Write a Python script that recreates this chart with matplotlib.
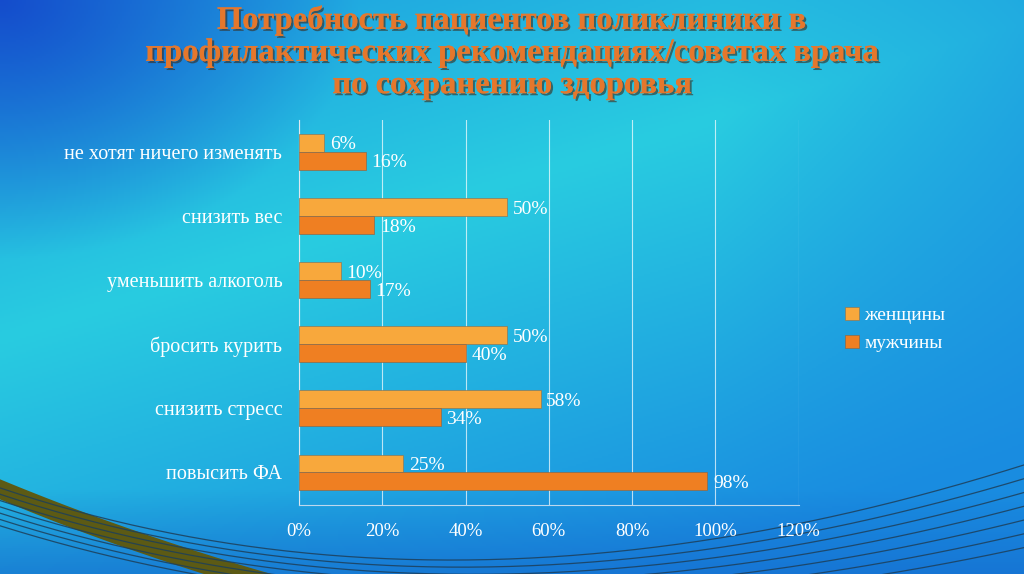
import numpy as np
import matplotlib.pyplot as plt
import matplotlib.patheffects as pe

categories = ["не хотят ничего изменять", "снизить вес", "уменьшить алкоголь",
              "бросить курить", "снизить стресс", "повысить ФА"]
women = [6, 50, 10, 50, 58, 25]
men = [16, 18, 17, 40, 34, 98]
series_names = ["женщины", "мужчины"]
ticks = [0, 20, 40, 60, 80, 100, 120]
title = ("Потребность пациентов поликлиники в\n"
         "профилактических рекомендациях/советах врача\n"
         "по сохранению здоровья")

c_women = "#f8a83c"
c_men = "#ef7f22"
serif = ["Liberation Serif", "DejaVu Serif"]


def bezier(p0, p1, p2, n=200):
    t = np.linspace(0, 1, n)[:, None]
    p = (1 - t) ** 2 * np.array(p0) + 2 * (1 - t) * t * np.array(p1) + t ** 2 * np.array(p2)
    return p[:, 0], p[:, 1]


fig = plt.figure(figsize=(10.24, 5.74), dpi=100)

# background gradient
bg = fig.add_axes([0, 0, 1, 1])
h, w = 287, 512
yy, xx = np.mgrid[0:h, 0:w]
xn, yn = xx / w, yy / h
cyan = np.array([0.16, 0.80, 0.88])
blue = np.array([0.10, 0.55, 0.88])
dark = np.array([0.08, 0.30, 0.80])
d = np.abs((yn - 0.45) + 0.55 * (xn - 0.25))
t = np.clip(d / 0.75, 0, 1)[..., None]
img = cyan * (1 - t) + blue * t
corner = np.clip(1 - np.hypot(xn / 0.35, yn / 0.45), 0, 1)[..., None]
img = img * (1 - corner) + dark * corner
rb = np.clip((xn - 0.7) / 0.3, 0, 1)[..., None] * 0.5
img = img * (1 - rb) + blue * rb
bot = np.clip((yn - 0.85) / 0.15, 0, 1)[..., None] * 0.6
img = img * (1 - bot) + np.array([0.08, 0.40, 0.80]) * bot
bg.imshow(img, aspect="auto", extent=[0, 1, 0, 1], origin="upper")

# decorative swoosh at the bottom
ux, uy = bezier((0, 0.165), (0.25, -0.02), (0.55, -0.12))
lx, ly = bezier((0, 0.13), (0.2, -0.02), (0.45, -0.12))
bg.fill(np.r_[ux, lx[::-1]], np.r_[uy, ly[::-1]], color="#5c5a14", lw=0)
for k in range(7):
    sx, sy = bezier((0, 0.15 - 0.011 * k), (0.45, -0.12 - 0.008 * k), (1, 0.19 - 0.024 * k))
    bg.plot(sx, sy, color="#1d3f5a", lw=0.9, alpha=0.85)
bg.set_xlim(0, 1)
bg.set_ylim(0, 1)
bg.axis("off")

fig.text(0.5, 0.909, title, ha="center", va="center", fontsize=23.5,
         fontweight="bold", color="#e5772c", family=serif, linespacing=1.05,
         path_effects=[pe.withSimplePatchShadow(offset=(1.5, -1.5), shadow_rgbFace="#3a2a1a", alpha=0.6),
                       pe.Normal()])

ax = fig.add_axes([0.292, 0.121, 0.488, 0.670])
ax.patch.set_alpha(0)
y = np.arange(len(categories))
bh = 0.28
bw = ax.barh(y - bh / 2, women, height=bh, color=c_women, edgecolor="#8a7a5a", lw=0.5, label=series_names[0], zorder=3)
bm = ax.barh(y + bh / 2, men, height=bh, color=c_men, edgecolor="#8a6a4a", lw=0.5, label=series_names[1], zorder=3)
for bars, vals in ((bw, women), (bm, men)):
    for b, v in zip(bars, vals):
        ax.text(v + 1.4, b.get_y() + b.get_height() / 2 + 0.03, f"{v}%", ha="left", va="center",
                color="white", fontsize=14, family=serif, zorder=4)

ax.set_ylim(len(categories) - 0.5, -0.5)
ax.set_xlim(0, 120)
ax.set_xticks(ticks)
ax.set_xticklabels([f"{t}%" for t in ticks], color="white", fontsize=13.5, family=serif)
ax.set_yticks(y)
ax.set_yticklabels(categories, color="white", fontsize=14.5, family=serif)
ax.tick_params(length=0, pad=13, axis="x")
ax.tick_params(length=0, pad=12, axis="y")
ax.grid(axis="x", color="white", lw=0.8, alpha=0.7, zorder=0)
for s in ("top", "right"):
    ax.spines[s].set_visible(False)
ax.spines["left"].set_color("#dde8f0")
ax.spines["bottom"].set_color("#bcd8ee")

leg = fig.legend(handles=[bw, bm], labels=series_names, loc="center left",
                 bbox_to_anchor=(0.808, 0.426), frameon=False, handlelength=0.7,
                 handleheight=0.7, labelspacing=0.55, handletextpad=0.3,
                 prop={"family": serif, "size": 14})
for t in leg.get_texts():
    t.set_color("white")

fig.savefig("out.png", dpi=100)
